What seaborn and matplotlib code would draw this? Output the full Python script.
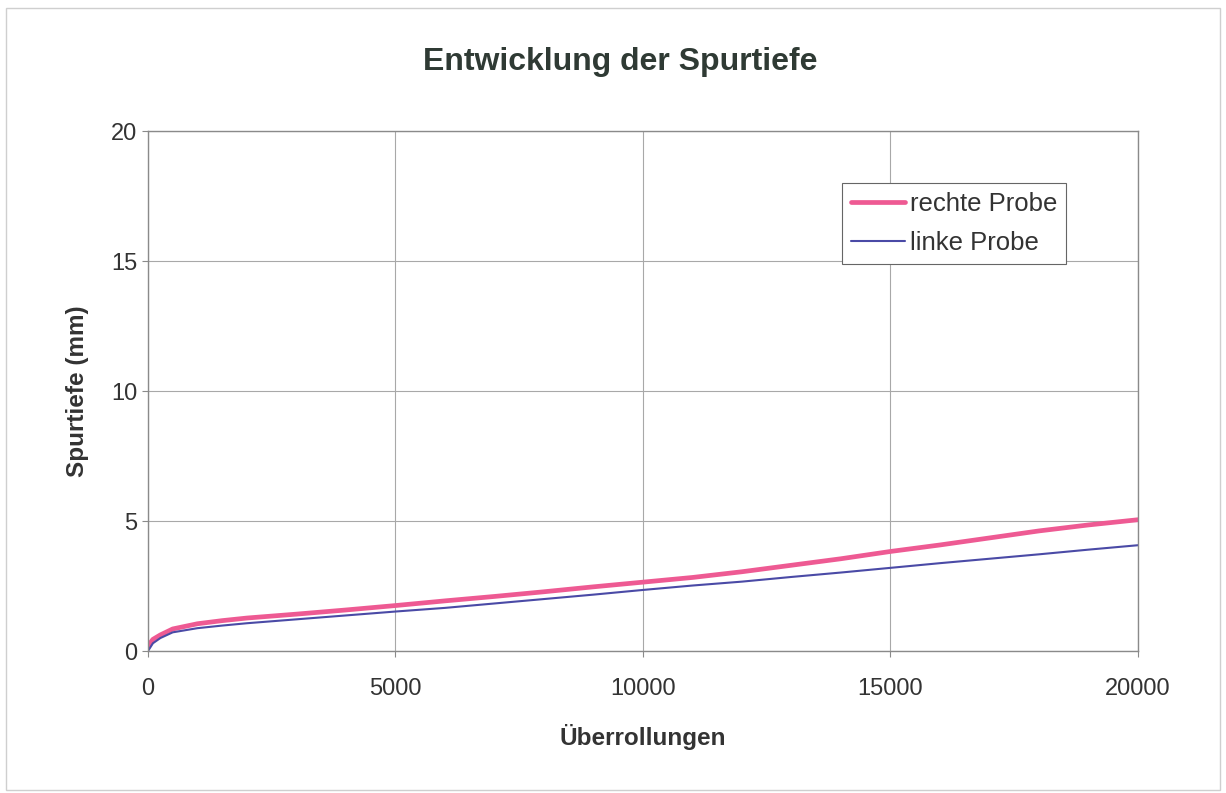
import matplotlib
matplotlib.use("Agg")
import matplotlib.pyplot as plt
import seaborn as sns
import pandas as pd
from matplotlib.patches import Rectangle
from matplotlib.lines import Line2D

# Data
ueberrollungen = [0, 100, 250, 500, 1000, 1500, 2000, 3000, 4000, 5000, 6000, 7000,
                  8000, 9000, 10000, 11000, 12000, 13000, 14000, 15000, 16000,
                  17000, 18000, 19000, 20000]
rechte_probe = [0.2, 0.45, 0.62, 0.85, 1.05, 1.17, 1.27, 1.42, 1.58, 1.75, 1.93, 2.1,
                2.28, 2.47, 2.65, 2.83, 3.05, 3.3, 3.55, 3.83, 4.08, 4.35, 4.62, 4.85, 5.05]
linke_probe = [0.0, 0.3, 0.5, 0.72, 0.88, 0.98, 1.07, 1.22, 1.37, 1.52, 1.66, 1.83,
               2.0, 2.17, 2.35, 2.52, 2.67, 2.85, 3.02, 3.2, 3.38, 3.55, 3.72, 3.9, 4.07]
series_names = ["rechte Probe", "linke Probe"]
x_ticks = [0, 5000, 10000, 15000, 20000]
y_ticks = [0, 5, 10, 15, 20]

sns.set_style("white")
plt.rcParams['font.family'] = ['Liberation Sans', 'DejaVu Sans']

df = pd.DataFrame({
    "x": ueberrollungen * 2,
    "y": rechte_probe + linke_probe,
    "Probe": [series_names[0]] * len(ueberrollungen) + [series_names[1]] * len(ueberrollungen),
})

fig = plt.figure(figsize=(12.26, 7.93), dpi=100)
ax = fig.add_axes([0.1207, 0.179, 0.8075, 0.6558])

palette = {series_names[0]: "#EE5A93", series_names[1]: "#4A4AA6"}
sns.lineplot(data=df, x="x", y="y", hue="Probe", size="Probe",
             sizes={series_names[0]: 3.4, series_names[1]: 1.5},
             palette=palette, ax=ax, legend=False)

ax.set_xlim(0, 20000)
ax.set_ylim(0, 20)
ax.set_xticks(x_ticks)
ax.set_yticks(y_ticks)
ax.set_xticklabels([str(t) for t in x_ticks])
ax.set_yticklabels([str(t) for t in y_ticks])
ax.grid(True, color="#a8a8a8", linewidth=0.8)
ax.set_axisbelow(True)
for s in ax.spines.values():
    s.set_color("#8a8a8a")
    s.set_linewidth(1.0)
ax.tick_params(axis="both", which="both", direction="out", length=4.5, width=0.8,
               color="#8a8a8a", labelsize=17, labelcolor="#333333",
               bottom=True, left=True)
ax.tick_params(axis="x", pad=15)
ax.tick_params(axis="y", pad=3)

ax.set_xlabel("Überrollungen", fontsize=17.5, fontweight="bold", color="#333333", labelpad=17)
ax.set_ylabel("Spurtiefe (mm)", fontsize=17.5, fontweight="bold", color="#333333", labelpad=16)
fig.text(0.506, 0.922, "Entwicklung der Spurtiefe", fontsize=23, fontweight="bold",
         color="#2f3a34", ha="center", va="center")

handles = [Line2D([], [], color=palette[series_names[0]], lw=3.4),
           Line2D([], [], color=palette[series_names[1]], lw=1.5)]
leg = ax.legend(handles, series_names, loc="upper left", bbox_to_anchor=(0.701, 0.900),
                fontsize=18.5, frameon=True, fancybox=False, framealpha=1,
                edgecolor="#666666", handlelength=2.1, handletextpad=0.2,
                borderpad=0.35, labelspacing=0.6, borderaxespad=0)
leg.get_frame().set_linewidth(0.8)
for t in leg.get_texts():
    t.set_color("#333333")

fig.patches.append(Rectangle((0.005, 0.004), 0.99, 0.986, transform=fig.transFigure,
                             fill=False, edgecolor="#cfcfcf", linewidth=1.0))

fig.savefig("out.png", dpi=100)
